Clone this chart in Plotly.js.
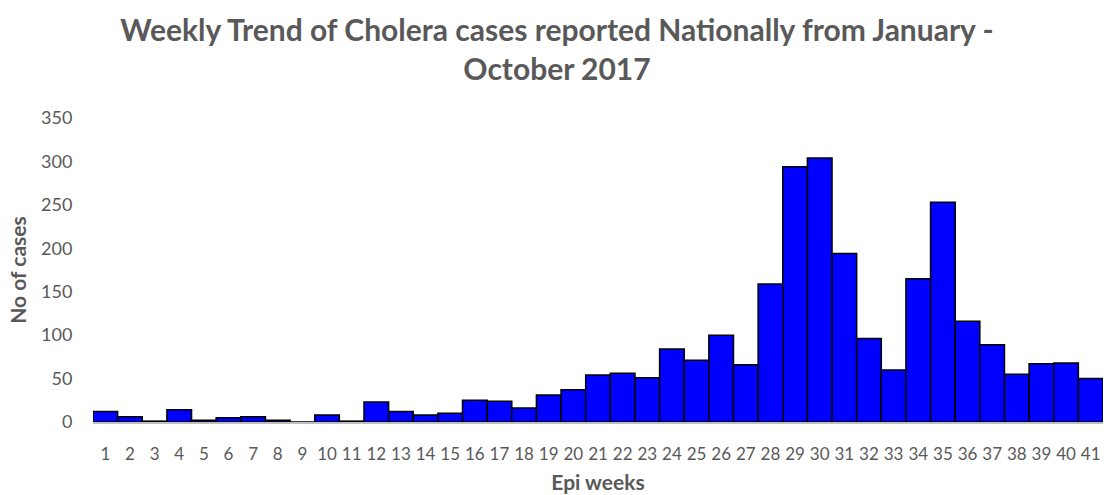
<!DOCTYPE html>
<html>
<head>
<meta charset="utf-8">
<script src="https://cdn.plot.ly/plotly-3.0.1.min.js"></script>
<style>html,body{margin:0;padding:0;background:#fff;}#chart{width:1114px;height:495px;}</style>
</head>
<body>
<div id="chart"></div>
<script>
const weeks = ['1','2','3','4','5','6','7','8','9','10','11','12','13','14','15','16','17','18','19','20','21','22','23','24','25','26','27','28','29','30','31','32','33','34','35','36','37','38','39','40','41'];
const cases = [12,6,1,14,2,5,6,2,0,8,1,23,12,8,10,25,24,16,31,37,54,56,51,84,71,100,66,159,294,304,194,96,60,165,253,116,89,55,67,68,50];
const titleText = 'Weekly Trend of Cholera cases reported Nationally from January -<br>October 2017';
const xTitle = 'Epi weeks';
const yTitle = 'No of cases';

const FONT = 'Lato, "Open Sans", sans-serif';
const GRAY = '#595959';

Plotly.newPlot('chart', [{
  type: 'bar',
  x: weeks,
  y: cases,
  marker: {color: '#0000FF', line: {color: '#000000', width: 1.5}},
  hoverinfo: 'x+y'
}], {
  width: 1114, height: 495,
  margin: {l: 93, r: 11, t: 118, b: 73},
  paper_bgcolor: '#ffffff', plot_bgcolor: '#ffffff',
  bargap: 0,
  showlegend: false,
  title: {
    text: titleText,
    font: {family: FONT, size: 30, color: GRAY, weight: 'bold'},
    x: 0.5, xanchor: 'center',
    y: 1 - 41/495, yanchor: 'top', yref: 'container'
  },
  xaxis: {
    type: 'category',
    showline: true, linecolor: '#bfbfbf', linewidth: 1.5,
    showgrid: false, zeroline: false,
    ticks: 'outside', ticklen: 16, tickcolor: 'rgba(0,0,0,0)',
    tickfont: {family: FONT, size: 17, color: GRAY},
    tickangle: 0,
    title: {text: xTitle, font: {family: FONT, size: 21, color: GRAY, weight: 'bold'}, standoff: 12},
    automargin: false
  },
  yaxis: {
    range: [0, 350],
    dtick: 50,
    showline: false, showgrid: false, zeroline: false,
    ticks: 'outside', ticklen: 16, tickcolor: 'rgba(0,0,0,0)',
    tickfont: {family: FONT, size: 18, color: GRAY},
    title: {text: yTitle, font: {family: FONT, size: 21, color: GRAY, weight: 'bold'}, standoff: 8},
    automargin: false
  }
}, {displayModeBar: false, staticPlot: true});
</script>
</body>
</html>
